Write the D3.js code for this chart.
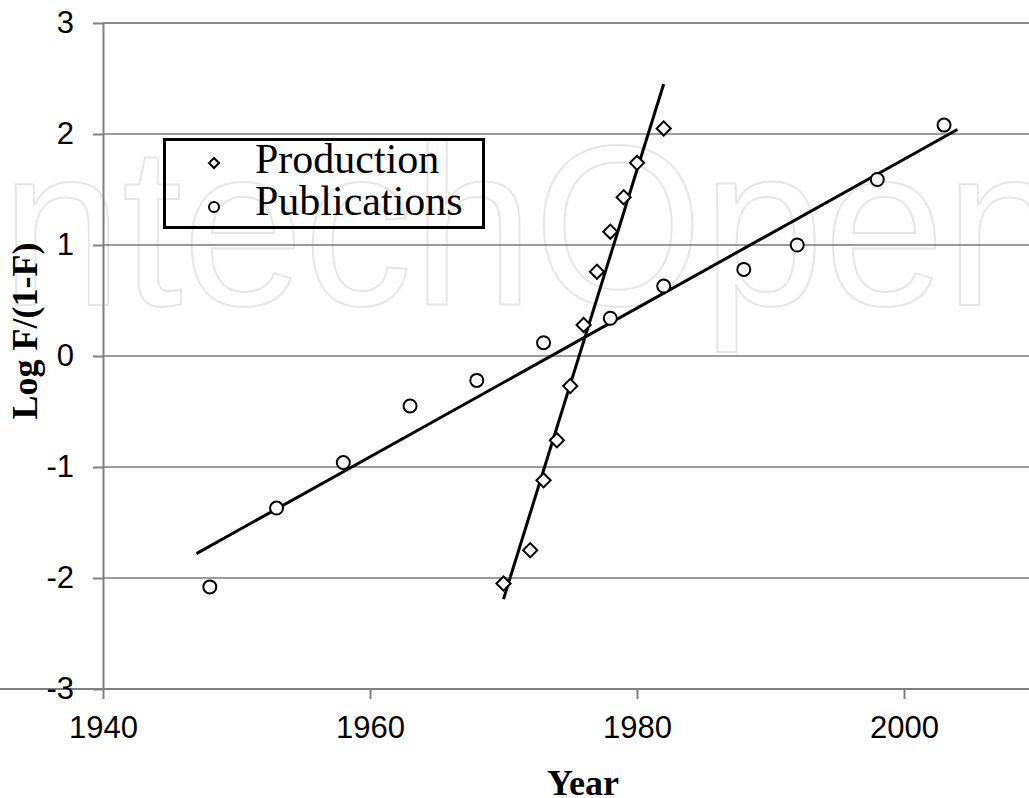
<!DOCTYPE html>
<html>
<head>
<meta charset="utf-8">
<script src="https://cdn.jsdelivr.net/npm/d3@7"></script>
<style>
    html, body { margin: 0; padding: 0; background: #fff; overflow: hidden; }
    #chart { width: 1029px; height: 798px; }
</style>
</head>
<body>
<div id="chart"></div>
<script>
// Data
const productionYears = [1970, 1972, 1973, 1974, 1975, 1976, 1977, 1978, 1979, 1980, 1982];
const productionValues = [-2.05, -1.75, -1.12, -0.76, -0.27, 0.28, 0.76, 1.12, 1.43, 1.74, 2.05];

const publicationYears = [1948, 1953, 1958, 1963, 1968, 1973, 1978, 1982, 1988, 1992, 1998, 2003];
const publicationValues = [-2.08, -1.37, -0.96, -0.45, -0.22, 0.12, 0.34, 0.63, 0.78, 1.00, 1.59, 2.08];

// Trend line end points
const productionFitYears = [1970, 1982];
const productionFitValues = [-2.19, 2.45];
const publicationFitYears = [1947, 2004];
const publicationFitValues = [-1.78, 2.04];

const xTicks = [1940, 1960, 1980, 2000];
const yTicks = [-3, -2, -1, 0, 1, 2, 3];
const legendLabels = ["Production", "Publications"];

const width = 1029;
const height = 798;
const margin = { top: 23, left: 103, bottom: 109 };

const svg = d3.select("#chart")
    .append("svg")
    .attr("width", width)
    .attr("height", height);

const x = d3.scaleLinear()
    .domain([1940, 2010])
    .range([margin.left, margin.left + 70 * 13.35]);

const y = d3.scaleLinear()
    .domain([-3, 3])
    .range([height - margin.bottom, margin.top]);

// faint watermark behind the plot
svg.append("text")
    .attr("x", 1)
    .attr("y", 305)
    .attr("textLength", 1065)
    .attr("lengthAdjust", "spacingAndGlyphs")
    .style("font-family", "Liberation Sans")
    .style("font-size", "228px")
    .style("fill", "none")
    .style("stroke", "#e6e6e6")
    .style("stroke-width", 2)
    .text("ntechOpen");

// horizontal grid lines
svg.selectAll("line.grid")
    .data(yTicks.filter(d => d > -3 && d < 3))
    .enter()
    .append("line")
    .attr("class", "grid")
    .attr("x1", x(1940))
    .attr("x2", width)
    .attr("y1", d => y(d))
    .attr("y2", d => y(d))
    .style("stroke", "#3a3a3a")
    .style("stroke-width", 1);

// top border
svg.append("line")
    .attr("x1", x(1940))
    .attr("x2", width)
    .attr("y1", y(3))
    .attr("y2", y(3))
    .style("stroke", "#8a8a8a")
    .style("stroke-width", 2);

// axes (plain hyphen for negatives, as in the original)
const xAxis = svg.append("g")
    .attr("transform", `translate(0,${y(-3)})`)
    .call(d3.axisBottom(x)
        .tickValues(xTicks)
        .tickSizeInner(10)
        .tickSizeOuter(0)
        .tickPadding(17)
        .tickFormat(d => String(d)));

const yAxis = svg.append("g")
    .attr("transform", `translate(${x(1940)},0)`)
    .call(d3.axisLeft(y)
        .tickValues(yTicks)
        .tickSizeInner(10)
        .tickSizeOuter(0)
        .tickPadding(19)
        .tickFormat(d => String(d)));

[xAxis, yAxis].forEach(g => {
    g.select(".domain").style("stroke", "#808080").style("stroke-width", 2);
    g.selectAll(".tick line").style("stroke", "#808080").style("stroke-width", 2);
    g.selectAll(".tick text")
        .style("font-family", "Liberation Sans, Arial, sans-serif")
        .style("font-size", "31px")
        .style("fill", "#000");
});
xAxis.select(".domain").attr("d", `M0,0H${width}`);

// trend lines
const line = d3.line()
    .x(d => x(d[0]))
    .y(d => y(d[1]));

svg.append("path")
    .datum(d3.zip(productionFitYears, productionFitValues))
    .attr("d", line)
    .style("fill", "none")
    .style("stroke", "#000")
    .style("stroke-width", 3);

svg.append("path")
    .datum(d3.zip(publicationFitYears, publicationFitValues))
    .attr("d", line)
    .style("fill", "none")
    .style("stroke", "#000")
    .style("stroke-width", 3);

// markers
const diamond = d3.symbol().type(d3.symbolSquare).size(100);

svg.selectAll(".prod")
    .data(d3.zip(productionYears, productionValues))
    .enter()
    .append("path")
    .attr("class", "prod")
    .attr("d", diamond)
    .attr("transform", d => `translate(${x(d[0])},${y(d[1])}) rotate(45)`)
    .style("fill", "#fff")
    .style("stroke", "#000")
    .style("stroke-width", 2);

svg.selectAll(".pub")
    .data(d3.zip(publicationYears, publicationValues))
    .enter()
    .append("circle")
    .attr("class", "pub")
    .attr("cx", d => x(d[0]))
    .attr("cy", d => y(d[1]))
    .attr("r", 6.5)
    .style("fill", "#fff")
    .style("stroke", "#000")
    .style("stroke-width", 2);

// legend
const legend = svg.append("g");
legend.append("rect")
    .attr("x", 164.5)
    .attr("y", 139.5)
    .attr("width", 319)
    .attr("height", 88)
    .style("fill", "none")
    .style("stroke", "#000")
    .style("stroke-width", 3);

legend.append("path")
    .attr("d", d3.symbol().type(d3.symbolSquare).size(50))
    .attr("transform", "translate(214,163) rotate(45)")
    .style("fill", "#fff")
    .style("stroke", "#000")
    .style("stroke-width", 2);

legend.append("circle")
    .attr("cx", 214)
    .attr("cy", 207)
    .attr("r", 5)
    .style("fill", "#fff")
    .style("stroke", "#000")
    .style("stroke-width", 2);

legend.selectAll("text")
    .data(legendLabels)
    .enter()
    .append("text")
    .attr("x", 255)
    .attr("y", (d, i) => 173 + i * 42)
    .style("font-family", "Liberation Serif, Times New Roman, serif")
    .style("font-size", "42px")
    .text(d => d);

// axis titles
svg.append("text")
    .attr("transform", "translate(37,331) rotate(-90)")
    .attr("text-anchor", "middle")
    .style("font-family", "Liberation Serif, Times New Roman, serif")
    .style("font-weight", "bold")
    .style("font-size", "36px")
    .text("Log F/(1-F)");

svg.append("text")
    .attr("x", 583)
    .attr("y", 795)
    .attr("text-anchor", "middle")
    .style("font-family", "Liberation Serif, Times New Roman, serif")
    .style("font-weight", "bold")
    .style("font-size", "36px")
    .text("Year");
</script>
</body>
</html>
